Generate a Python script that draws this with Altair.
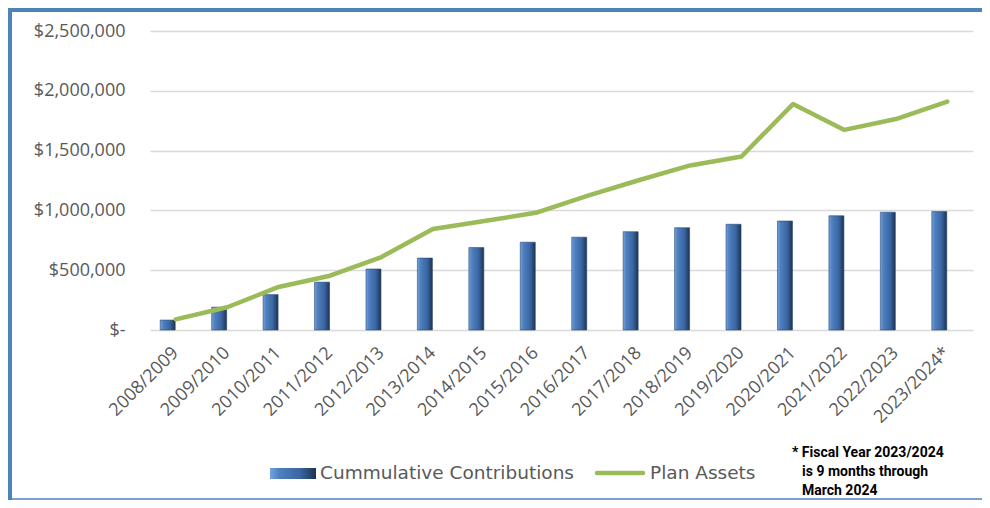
import altair as alt
import pandas as pd

years = ["2008/2009", "2009/2010", "2010/2011", "2011/2012", "2012/2013", "2013/2014",
         "2014/2015", "2015/2016", "2016/2017", "2017/2018", "2018/2019", "2019/2020",
         "2020/2021", "2021/2022", "2022/2023", "2023/2024*"]
contributions = [83000, 191000, 296000, 400000, 510000, 601000, 689000, 734000,
                 776000, 822000, 855000, 884000, 911000, 955000, 985000, 990000]
plan_assets = [89000, 190000, 360000, 454000, 610000, 845000, 911000, 980000,
               1121000, 1252000, 1376000, 1451000, 1889000, 1673000, 1764000, 1910000]
y_ticks = [0, 500000, 1000000, 1500000, 2000000, 2500000]
legend_labels = ["Cummulative Contributions", "Plan Assets"]
note_lines = ["* Fiscal Year 2023/2024", "is 9 months through", "March 2024"]

df = pd.DataFrame({"year": years, "contrib": contributions, "assets": plan_assets})

W, H = 823, 299
FONT = "Open Sans"
GREY = "#595959"
BORDER = "#4f81bd"
GREEN = "#9bbb59"

bar_grad = alt.Gradient(
    gradient="linear", x1=0, x2=1, y1=0, y2=0,
    stops=[alt.GradientStop(color="#74a3de", offset=0),
           alt.GradientStop(color="#4f80c0", offset=0.2),
           alt.GradientStop(color="#3a66a2", offset=0.65),
           alt.GradientStop(color="#1d3352", offset=1)])

x_enc = alt.X("year:N", sort=years, title=None,
              scale=alt.Scale(paddingInner=0, paddingOuter=0),
              axis=alt.Axis(labelAngle=-45, labelFontSize=18, labelFont=FONT,
                            labelColor=GREY, domain=False, ticks=False,
                            labelPadding=20, labelAlign="right", labelBaseline="middle"))
y_scale = alt.Scale(domain=[0, 2500000], nice=False)
y_axis = alt.Axis(values=y_ticks, labelFontSize=18, labelFont=FONT, labelColor=GREY,
                  domain=False, ticks=False, labelPadding=25,
                  gridColor="#d9d9d9", gridWidth=1.5,
                  labelExpr="datum.value == 0 ? '$-\u00a0\u00a0' : '$' + format(datum.value, ',')")

base = alt.Chart(df)
bars = base.mark_bar(color=bar_grad, size=15, xOffset=-8, stroke="#2a4670", strokeWidth=0.6).encode(
    x=x_enc,
    y=alt.Y("contrib:Q", scale=y_scale, axis=y_axis, title=None),
)
line = base.mark_line(color=GREEN, strokeWidth=4.5, strokeCap="round", strokeJoin="round").encode(
    x=alt.X("year:N", sort=years),
    y=alt.Y("assets:Q"),
)

one = pd.DataFrame({"k": [0]})
leg_bar = alt.Chart(one).mark_rect(color=bar_grad).encode(
    x=alt.value(120), x2=alt.value(166), y=alt.value(437), y2=alt.value(448))
leg_line = alt.Chart(one).mark_rule(color=GREEN, strokeWidth=4.5, strokeCap="round").encode(
    x=alt.value(447), x2=alt.value(493), y=alt.value(442))


def txt(s, x, y, **kw):
    return alt.Chart(pd.DataFrame({"t": [s]})).mark_text(
        align="left", baseline="middle", **kw).encode(
        text="t:N", x=alt.value(x), y=alt.value(y))


leg_font = dict(font="DejaVu Sans", fontSize=18.5, color=GREY)
leg_t1 = txt(legend_labels[0], 170, 442, **leg_font)
leg_t2 = txt(legend_labels[1], 500, 442, **leg_font)
note_font = dict(font="Liberation Sans Narrow, Roboto", fontSize=14, fontWeight="bold", color="black")
note1 = txt(note_lines[0], 642, 422, **note_font)
note2 = txt(note_lines[1], 652, 441, **note_font)
note3 = txt(note_lines[2], 652, 460, **note_font)

border_top = alt.Chart(one).mark_rule(color=BORDER, strokeWidth=4).encode(
    x=alt.value(-142), x2=alt.value(W + 9), y=alt.value(-21))
border_left = alt.Chart(one).mark_rule(color=BORDER, strokeWidth=4).encode(
    x=alt.value(-140), y=alt.value(-23), y2=alt.value(H + 170))
border_bottom = alt.Chart(one).mark_rule(color=BORDER, strokeWidth=1.5).encode(
    x=alt.value(-142), x2=alt.value(W + 9), y=alt.value(H + 169))

chart = alt.layer(bars, line, leg_bar, leg_line, leg_t1, leg_t2, note1, note2, note3,
                  border_top, border_left, border_bottom).properties(
    width=W, height=H,
    autosize=alt.AutoSizeParams(type="none"),
    padding={"left": 142, "top": 23, "right": 9, "bottom": 170},
).configure_view(stroke=None)

chart.save("out.html", embed_options={"renderer": "svg", "actions": False})
